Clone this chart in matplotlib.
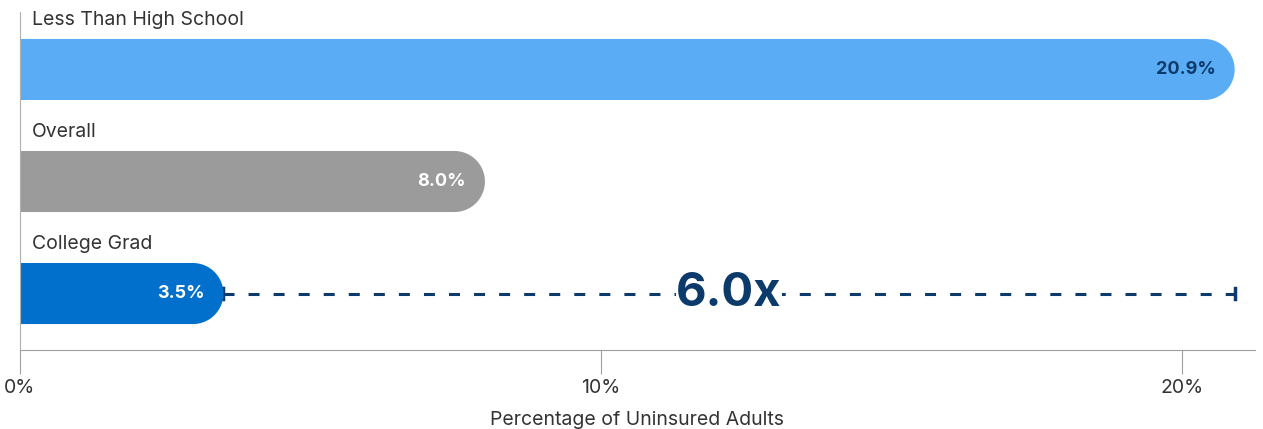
import matplotlib.pyplot as plt
import numpy as np
from matplotlib.patches import Polygon

categories = ['Less Than High School', 'Overall', 'College Grad']
values = [20.9, 8.0, 3.5]
value_labels = ['20.9%', '8.0%', '3.5%']
bar_colors = ['#5aacf4', '#9b9b9b', '#0070cc']
label_colors = ['#0b3a6b', 'white', 'white']
ratio_label = '6.0x'
xticks = [0, 10, 20]
xtick_labels = ['0%', '10%', '20%']

navy = '#0b3a6b'
plt.rcParams['font.family'] = ['Inter', 'DejaVu Sans']

fig = plt.figure(figsize=(12.63, 4.29), dpi=100)
ax = fig.add_axes([20 / 1263, 79 / 429, 1235 / 1263, 338 / 429])
ax.set_xlim(0, 21.25)
ax.set_ylim(2.504, -0.513)

bar_h = 0.545
# pixel scale to make round ends circular
p0 = ax.transData.transform((0, 0))
p1 = ax.transData.transform((1, 1))
px_x = abs(p1[0] - p0[0])
px_y = abs(p1[1] - p0[1])
ry = bar_h / 2
rx = ry * px_y / px_x

t = np.linspace(-np.pi / 2, np.pi / 2, 60)
for i, (v, c) in enumerate(zip(values, bar_colors)):
    xs = list(v - rx + rx * np.cos(t))
    ys = list(i + ry * np.sin(t))
    pts = [(0, i - ry)] + list(zip(xs, ys)) + [(0, i + ry)]
    ax.add_patch(Polygon(pts, closed=True, facecolor=c, edgecolor='none', zorder=2))
    ax.text(v - 0.33, i, value_labels[i], ha='right', va='center', fontsize=13,
            fontweight='bold', color=label_colors[i], zorder=3)
    ax.text(0.2, i - 0.442, categories[i], ha='left', va='center', fontsize=14,
            color='#333333')

# ratio line between college grad and less than high school
lo, hi = values[2], values[0]
ax.plot([lo, hi], [2, 2], color=navy, lw=2.2, dashes=(3.6, 4.6), zorder=1)
ax.plot([lo, lo], [2 - 0.05, 2 + 0.05], color=navy, lw=2.5, zorder=1)
ax.plot([hi, hi], [2 - 0.05, 2 + 0.05], color=navy, lw=2.5, zorder=1)
ax.text((lo + hi) / 2, 2, ratio_label, ha='center', va='center', fontsize=34,
        fontweight='bold', color=navy, zorder=4,
        bbox=dict(facecolor='white', edgecolor='none', pad=0))

for s in ['top', 'right']:
    ax.spines[s].set_visible(False)
ax.spines['left'].set_color('#b0b0b0')
ax.spines['bottom'].set_color('#a0a0a0')
ax.set_yticks([])
ax.set_xticks(xticks)
ax.set_xticklabels(xtick_labels, fontsize=14, color='#333333')
ax.tick_params(axis='x', length=17, color='#a0a0a0', pad=4)
ax.set_xlabel('Percentage of Uninsured Adults', fontsize=14, color='#333333', labelpad=10)

fig.savefig('out.png', dpi=100)
